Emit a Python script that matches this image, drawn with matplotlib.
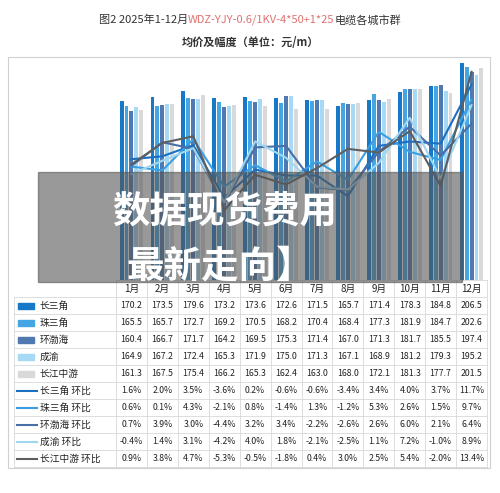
import matplotlib
matplotlib.use("Agg")
import matplotlib.pyplot as plt
from matplotlib.patches import Rectangle
import numpy as np

plt.rcParams['font.family'] = ['Noto Sans CJK SC', 'DejaVu Sans']

months = ["1月","2月","3月","4月","5月","6月","7月","8月","9月","10月","11月","12月"]
regions = ["长三角","珠三角","环渤海","成渝","长江中游"]
p_csj = [170.2,173.5,179.6,173.2,173.6,172.6,171.5,165.7,171.4,178.3,184.8,206.5]
p_zsj = [165.5,165.7,172.7,169.2,170.5,168.2,170.4,168.4,177.3,181.9,184.7,202.6]
p_hbh = [160.4,166.7,171.7,164.2,169.5,175.3,171.4,167.0,171.3,181.7,185.5,197.4]
p_cy  = [164.9,167.2,172.4,165.3,171.9,175.0,171.3,167.1,168.9,181.2,179.3,195.2]
p_cjz = [161.3,167.5,175.4,166.2,165.3,162.4,163.0,168.0,172.1,181.3,177.7,201.5]
r_csj = [1.6,2.0,3.5,-3.6,0.2,-0.6,-0.6,-3.4,3.4,4.0,3.7,11.7]
r_zsj = [0.6,0.1,4.3,-2.1,0.8,-1.4,1.3,-1.2,5.3,2.6,1.5,9.7]
r_hbh = [0.7,3.9,3.0,-4.4,3.2,3.4,-2.2,-2.6,2.6,6.0,2.1,6.4]
r_cy  = [-0.4,1.4,3.1,-4.2,4.0,1.8,-2.1,-2.5,1.1,7.2,-1.0,8.9]
r_cjz = [0.9,3.8,4.7,-5.3,-0.5,-1.8,0.4,3.0,2.5,5.4,-2.0,13.4]

prices = [p_csj,p_zsj,p_hbh,p_cy,p_cjz]
rates = [r_csj,r_zsj,r_hbh,r_cy,r_cjz]
bar_colors = ["#1778c8","#45a6e4","#4f79b0","#a6daf4","#d9d9d9"]
line_colors = ["#1a6fc0","#3a9fe0","#4a6fa8","#9fd6f0","#5e5e5e"]

W,H = 500,493
fig = plt.figure(figsize=(5,4.93), dpi=100)
def fx(x): return x/W
def fy(y): return 1-y/H

# title (three coloured parts placed one after another)
renderer = fig.canvas.get_renderer()
parts = [("图2 2025年1-12月", "#333333"), ("WDZ-YJY-0.6/1KV-4*50+1*25", "#e07070"), ("电缆各城市群", "#333333")]
objs = [fig.text(0, fy(20), s, fontsize=8, color=c, va="center", ha="left") for s, c in parts]
widths = [o.get_window_extent(renderer).width for o in objs]
x0 = (W - sum(widths)) / 2
for o, w in zip(objs, widths):
    o.set_x(fx(x0)); x0 += w
fig.text(fx(250), fy(43), "均价及幅度（单位：元/m）", fontsize=8, color="#333333", va="center", ha="center", fontweight="bold")

# frame
fig.patches.append(Rectangle((fx(8), fy(468)), fx(482), (468-57)/H, transform=fig.transFigure,
                             fill=False, ec="#d0d0d0", lw=0.8))

left, right, top, bot = 116, 487, 57, 280
ax = fig.add_axes([fx(left), fy(bot), fx(right-left), (bot-top)/H])
x = np.arange(12)
bw = 0.16
for i,(vals,c) in enumerate(zip(prices,bar_colors)):
    ax.bar(x - 0.32 + i*bw, vals, width=bw*0.8, color=c)
ax.set_xlim(-0.5,11.5)
ax.set_ylim(0,212)
ax.axis("off")
ax2 = ax.twinx()
for vals,c in zip(rates,line_colors):
    ax2.plot(x, vals, color=c, lw=1.5)
ax2.set_ylim(-14.7,15.4)
ax2.axis("off")

# table
tl, tr, tt = 14, 487, 280
cw = (tr-116)/12
rowh = 17
nrows = 11
tb = tt + rowh*nrows
gc = "#d8d8d8"
def hline(y, x0=tl, x1=tr): fig.add_artist(plt.Line2D([fx(x0),fx(x1)],[fy(y),fy(y)], color=gc, lw=0.6))
def vline(xx, y0, y1): fig.add_artist(plt.Line2D([fx(xx),fx(xx)],[fy(y0),fy(y1)], color=gc, lw=0.6))
for r in range(nrows+1):
    hline(tt+r*rowh, tl if r>0 else 116, tr)
vline(tl, tt+rowh, tb)
for c in range(13):
    vline(116+c*cw, tt, tb)
for j,m in enumerate(months):
    fig.text(fx(116+(j+0.5)*cw), fy(tt+rowh/2), m, fontsize=7, ha="center", va="center", color="#222222")
labels = regions + [r+" 环比" for r in regions]
for r in range(10):
    yc = tt + rowh*(r+1) + rowh/2
    if r < 5:
        fig.patches.append(Rectangle((fx(18), fy(yc+3)), fx(16), 6/H, transform=fig.transFigure,
                                     color=bar_colors[r]))
        vals = ["%.1f" % v for v in prices[r]]
    else:
        fig.add_artist(plt.Line2D([fx(17),fx(37)],[fy(yc),fy(yc)], color=line_colors[r-5], lw=1.5))
        vals = ["%.1f%%" % v for v in rates[r-5]]
    fig.text(fx(40), fy(yc), labels[r], fontsize=7, ha="left", va="center", color="#222222")
    for j,v in enumerate(vals):
        fig.text(fx(116+(j+0.5)*cw), fy(yc), v, fontsize=6.3, ha="center", va="center", color="#222222")

# overlay banner
fig.patches.append(Rectangle((fx(38), fy(282)), fx(424), (282-172)/H, transform=fig.transFigure,
                             color="#555555", alpha=0.6, zorder=10))
fig.text(fx(225), fy(212), "数据现货费用", fontsize=27, color="white", fontweight="bold",
         ha="center", va="center", zorder=11)
fig.text(fx(220), fy(266), "最新走向】", fontsize=27, color="white", fontweight="bold",
         ha="center", va="center", zorder=11)

fig.savefig("out.png", dpi=100)
